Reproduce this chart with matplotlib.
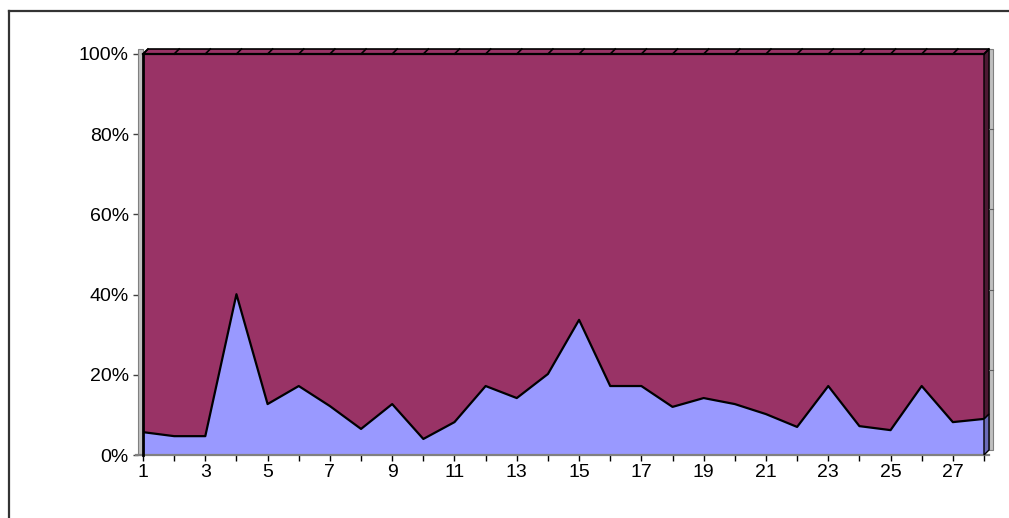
import matplotlib
matplotlib.use("Agg")
import matplotlib.pyplot as plt
from matplotlib.patches import Polygon
from matplotlib.lines import Line2D
from matplotlib.transforms import IdentityTransform

# share of each day (percent), two stacked series
days = list(range(1, 29))
share_low = [5.7, 4.7, 4.7, 40.1, 12.7, 17.2, 12.2, 6.5, 12.7, 4.0,
             8.2, 17.2, 14.2, 20.2, 33.7, 17.2, 17.2, 12.0, 14.2, 12.7,
             10.2, 7.0, 17.2, 7.2, 6.2, 17.2, 8.2, 9.0]
share_high = [94.3, 95.3, 95.3, 59.9, 87.3, 82.8, 87.8, 93.5, 87.3, 96.0,
              91.8, 82.8, 85.8, 79.8, 66.3, 82.8, 82.8, 88.0, 85.8, 87.3,
              89.8, 93.0, 82.8, 92.8, 93.8, 82.8, 91.8, 91.0]
y_ticks = [0, 20, 40, 60, 80, 100]
y_labels = ["0%", "20%", "40%", "60%", "80%", "100%"]

plt.rcParams["font.family"] = ["Liberation Sans", "DejaVu Sans"]

W, H = 1009, 518
fig = plt.figure(figsize=(W / 100, H / 100), dpi=100)
fig.patch.set_facecolor("white")

ax = fig.add_axes([143 / W, 1 - 455 / H, (984 - 143) / W, (455 - 54) / H])
ax.stackplot(days, share_low, share_high,
             colors=["#9999FF", "#993366"], zorder=2)
ax.plot(days, share_low, color="black", lw=1.6, zorder=4)
ax.set_xlim(1, 28)
ax.set_ylim(0, 100)

for s in ["top", "right", "bottom"]:
    ax.spines[s].set_visible(False)
ax.spines["left"].set_visible(False)
ax.spines["left"].set_position(("outward", 3.6))

ax.set_xticks(days)
ax.set_xticklabels([str(d) if d % 2 == 1 else "" for d in days])
ax.set_yticks(y_ticks)
ax.set_yticklabels(y_labels)
ax.tick_params(axis="x", length=4.5, width=1.0, color="black", pad=2,
               labelsize=14, direction="out")
ax.tick_params(axis="y", length=3.6, width=1.0, color="#404040", pad=3,
               labelsize=14, direction="out")

# pixel helpers (display coords, same as saved image at dpi 100)
fig.canvas.draw()
D = 5  # depth of the 3-D look, in pixels


def pt(x, y, dx=0, dy=0):
    px, py = ax.transData.transform((x, y))
    return (px + dx, py + dy)


def img(x, y):
    return (x, H - y)


def poly(verts, fc, ec="black", lw=1.2, z=5):
    fig.add_artist(Polygon(verts, closed=True, facecolor=fc, edgecolor=ec,
                           linewidth=lw, transform=IdentityTransform(),
                           zorder=z))


def line(xs, ys, color="black", lw=1.2, z=6):
    fig.add_artist(Line2D(xs, ys, color=color, linewidth=lw,
                          transform=IdentityTransform(), zorder=z))


# side walls
x0, _ = pt(1, 0)
x1, _ = pt(28, 0)
_, yb = pt(1, 0)
_, yt = pt(1, 100)
poly([(x0 - 5, yb), (x0, yb), (x0, yt + D), (x0 - 5, yt + D)],
     "#C0C0C0", ec="#808080", lw=0.8, z=1)
poly([(x1 + D, yb + D), (x1 + D + 4, yb + D), (x1 + D + 4, yt + D),
      (x1 + D, yt + D)], "#C0C0C0", ec="#808080", lw=0.8, z=1)
for v in y_ticks[1:-1]:
    _, yy = pt(28, v)
    line([x1 + D, x1 + D + 4], [yy + D, yy + D], color="#606060", lw=0.8)

# floor line
line([x0 - 7, x1 + D], [yb, yb], color="#808080", lw=1.6, z=3)

# right face of the area
last_low = share_low[-1]
poly([pt(28, 0), pt(28, 0, D, D), pt(28, last_low, D, D), pt(28, last_low)],
     "#6B6BB8", lw=1.0)
poly([pt(28, last_low), pt(28, last_low, D, D), pt(28, 100, D, D),
      pt(28, 100)], "#4C1933", lw=1.0)

# top face of the area
poly([pt(1, 100), pt(28, 100), pt(28, 100, D, D), pt(1, 100, D, D)],
     "#993366", lw=1.2)
for d in days:
    a = pt(d, 100)
    b = pt(d, 100, D, D)
    line([a[0], b[0]], [a[1], b[1]], lw=1.2)

# outline of the front face
line([x0, x0], [yb, yt], lw=2.0)
line([x0, x1], [yt, yt], lw=1.6)

# chart frame
line([img(9, 11)[0], W], [img(9, 11)[1], img(9, 11)[1]], color="#333333",
     lw=1.6)
line([img(9, 11)[0], img(9, 11)[0]], [img(9, 11)[1], 0], color="#333333",
     lw=1.6)

fig.savefig("out.png", dpi=100)
